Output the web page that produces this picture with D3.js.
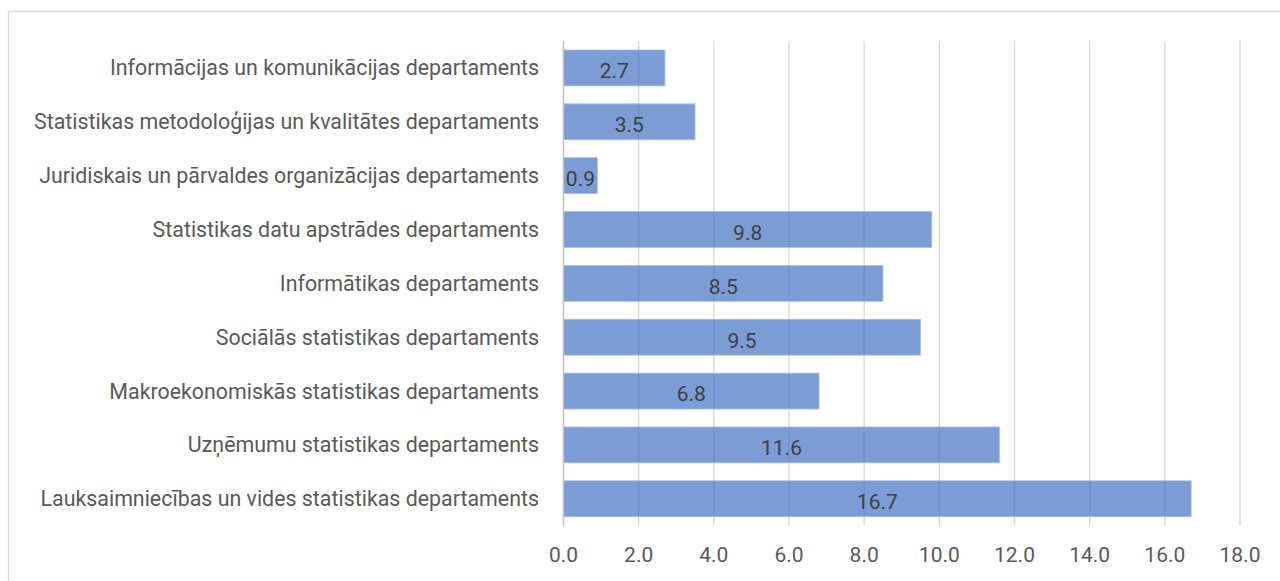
<!DOCTYPE html>
<html>
<head>
<meta charset="utf-8">
<script src="https://cdn.jsdelivr.net/npm/d3@7"></script>
<style>
  html, body { margin: 0; padding: 0; background: #fff; }
  svg { display: block; }
</style>
</head>
<body>
<svg id="chart" width="1280" height="581"></svg>
<script>
const categories = [
  "Informācijas un komunikācijas departaments",
  "Statistikas metodoloģijas un kvalitātes departaments",
  "Juridiskais un pārvaldes organizācijas departaments",
  "Statistikas datu apstrādes departaments",
  "Informātikas departaments",
  "Sociālās statistikas departaments",
  "Makroekonomiskās statistikas departaments",
  "Uzņēmumu statistikas departaments",
  "Lauksaimniecības un vides statistikas departaments"
];
const values = [2.7, 3.5, 0.9, 9.8, 8.5, 9.5, 6.8, 11.6, 16.7];
const xTicks = [0, 2, 4, 6, 8, 10, 12, 14, 16, 18];

const svg = d3.select("#chart");
const FONT = "Roboto, 'Noto Sans', sans-serif";

// outer border
svg.append("rect")
  .attr("x", 8.5).attr("y", 11.5)
  .attr("width", 1290).attr("height", 600)
  .attr("fill", "none").attr("stroke", "#d9d9d9").attr("stroke-width", 1.5);

const x = d3.scaleLinear().domain([0, 18]).range([563.5, 1240]);
const y = d3.scaleBand().domain(categories).range([41, 525.7])
  .paddingInner(0.333).paddingOuter(0.167);

// fit font size: longest label ~499px wide
const probe = svg.append("text").attr("font-family", FONT).attr("font-size", 20)
  .text(categories[categories.length - 1]);
const w = probe.node().getComputedTextLength();
probe.remove();
const fs = Math.min(22, 20 * 499 / w);
const fsNum = 21;

// gridlines
svg.append("g").selectAll("line").data(xTicks.filter(d => d > 0)).join("line")
  .attr("x1", d => x(d)).attr("x2", d => x(d))
  .attr("y1", 41).attr("y2", 525.7)
  .attr("stroke", "#d9d9d9").attr("stroke-width", 1.3);

// bars
svg.append("g").selectAll("rect").data(values).join("rect")
  .attr("x", x(0))
  .attr("y", (d, i) => y(categories[i]))
  .attr("width", d => x(d) - x(0))
  .attr("height", y.bandwidth())
  .attr("fill", "#4472c4").attr("fill-opacity", 0.7)
  .attr("stroke", "#a9c0e8").attr("stroke-width", 0.8);

// zero axis line
svg.append("line")
  .attr("x1", x(0)).attr("x2", x(0)).attr("y1", 41).attr("y2", 525.7)
  .attr("stroke", "#bfbfbf").attr("stroke-width", 1.5);

// category labels
svg.append("g").selectAll("text").data(categories).join("text")
  .attr("x", x(0) - 24.5)
  .attr("y", d => y(d) + y.bandwidth() / 2)
  .attr("dy", "0.35em")
  .attr("text-anchor", "end")
  .attr("font-family", FONT).attr("font-size", fs)
  .attr("fill", "#595959")
  .text(d => d);

// data labels
svg.append("g").selectAll("text").data(values).join("text")
  .attr("x", d => (x(0) + x(d)) / 2)
  .attr("y", (d, i) => y(categories[i]) + y.bandwidth() / 2 + 3)
  .attr("dy", "0.35em")
  .attr("text-anchor", "middle")
  .attr("font-family", FONT).attr("font-size", fsNum)
  .attr("fill", "#404040")
  .text(d => d.toFixed(1));

// x tick labels
svg.append("g").selectAll("text").data(xTicks).join("text")
  .attr("x", d => x(d))
  .attr("y", 555)
  .attr("dy", "0.35em")
  .attr("text-anchor", "middle")
  .attr("font-family", FONT).attr("font-size", fsNum)
  .attr("fill", "#595959")
  .text(d => d.toFixed(1));
</script>
</body>
</html>
